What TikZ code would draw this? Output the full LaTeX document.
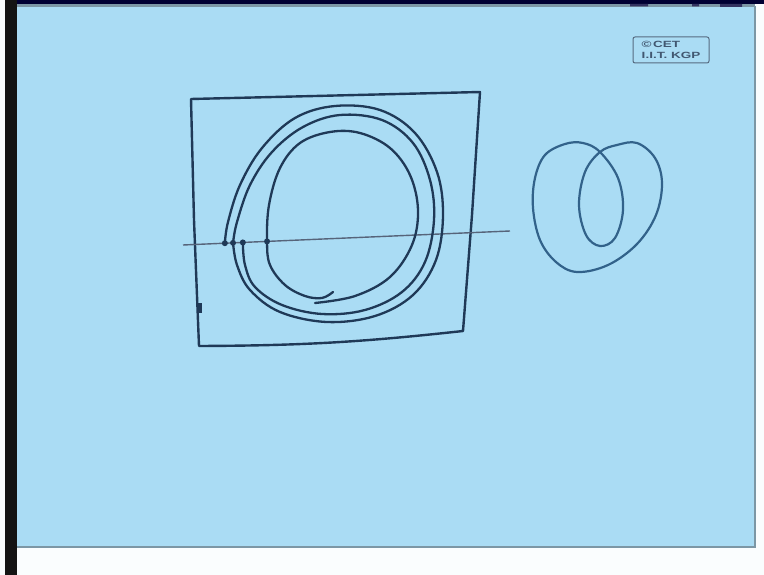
\documentclass[tikz,border=0pt]{standalone}
\usepackage{fontspec}
\newfontfamily\stampfont[FakeStretch=1.5]{Liberation Sans}
\usetikzlibrary{positioning,calc}
\definecolor{PaperBlue}{HTML}{AADCF4}
\definecolor{InkNavy}{HTML}{1F3957}
\definecolor{InkBlue}{HTML}{32628A}
\definecolor{RuleGrey}{HTML}{56647A}
\definecolor{EdgeGrey}{HTML}{7C97A5}
\tikzset{frame/.style={InkNavy,line width=2.4pt,line cap=round,line join=round},
 orbit/.style={InkNavy,line width=2.3pt,line cap=round},
 loopline/.style={InkBlue,line width=2.2pt,line cap=round},
 section/.style={RuleGrey,line width=1.4pt},
 hit/.style={InkNavy},
 stamp/.style={draw=InkNavy!75,rounded corners=2pt,line width=1pt,minimum width=76pt,
 minimum height=26pt,inner sep=2pt,align=left,text=InkNavy!85,
 font=\stampfont\bfseries\fontsize{9}{10.5}\selectfont}}

\begin{document}
\begin{tikzpicture}[x=1pt,y=-1pt]
\useasboundingbox (0,0) rectangle (764,575);
% sheet and photo edges
\fill[white!94!PaperBlue] (0,0) rectangle (764,575);
\fill[black!92] (5,0) rectangle (17,575);
\fill[black!80!blue] (17,0) rectangle (764,4);
\fill[PaperBlue] (17,4) rectangle (755,548);
\draw[EdgeGrey,line width=3pt] (17,6)--(755,6);
\draw[EdgeGrey,line width=1.5pt] (17,547)--(755,547)--(755,6);
\fill[black!70!blue!60!gray] (630,4) rectangle (648,6.5) (692,4) rectangle (699,6.5) (720,4) rectangle (742,7);
% stamp
\node[stamp] (cet) at (671,50) {\textcopyright\,CET\\I.I.T. KGP};
% box
\draw[frame] (191,99) -- (480,92) -- (472,215) -- (463,331) to[bend left=3] (199,346) -- (194,220) -- cycle;
\draw[InkNavy,line width=3.4pt] (200,303)--(200,313);
% section line and crossings
\coordinate (secL) at (183,245);
\coordinate (secR) at (510,231);
\draw[section] (secL) -- (secR);
\coordinate (p1) at ($(secL)!.128!(secR)$);
\coordinate (p2) at ($(secL)!.153!(secR)$);
\coordinate (p3) at ($(secL)!.183!(secR)$);
\coordinate (p4) at ($(secL)!.257!(secR)$);
% spiral
\draw[orbit] plot[smooth,tension=.6] coordinates {(p1) (228,222) (240,185) (262,148) (295,118)
 (335,106) (380,110) (415,133) (437,172) (443,215) (436,260) (413,295) (375,316) (327,322)
 (280,312) (250,290) (237,265) (p2)};
\draw[orbit] plot[smooth,tension=.6] coordinates {(p2) (237,222) (250,185) (272,152) (303,127)
 (340,115) (382,120) (413,143) (430,180) (434,220) (425,262) (402,292) (365,310) (322,314)
 (282,305) (255,287) (245,265) (p3)};
\draw[orbit] plot[smooth,tension=.6] coordinates {(315,303) (355,296) (390,277) (412,245)
 (418,210) (410,175) (390,148) (360,133) (330,132) (300,143) (280,168) (269,205) (p4)
 (270,265) (285,285) (305,296) (322,298) (333,292)};
\foreach \p in {p1,p2,p3,p4}\fill[hit] (\p) circle (3pt);
% figure eight loop
\coordinate (knot) at (600,152);
\draw[loopline] plot[smooth cycle,tension=.6] coordinates {(knot) (585,172) (579,205) (586,235)
 (600,246) (615,238) (623,210) (618,178) (knot) (583,143) (565,144) (545,155) (535,178)
 (533,208) (540,240) (556,262) (577,272) (608,265) (637,244) (656,215) (662,183) (655,158)
 (637,143) (617,145)};
\end{tikzpicture}
\end{document}
